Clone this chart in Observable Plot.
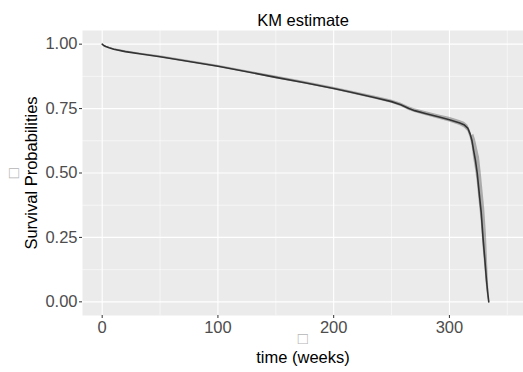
<!DOCTYPE html>
<html>
<head>
<meta charset="utf-8">
<script src="https://cdn.jsdelivr.net/npm/d3@7"></script>
<script src="https://cdn.jsdelivr.net/npm/@observablehq/plot@0.6"></script>
<style>
  html, body { margin: 0; padding: 0; background: #fff; }
  svg { display: block; }
</style>
</head>
<body>
<div id="chart"></div>
<script>
const title = "KM estimate";
const xLabel = "time (weeks)";
const yLabel = "Survival Probabilities";
const missingGlyph = "\u25A1";

const xTicks = [0, 100, 200, 300];
const xMinor = [50, 150, 250, 350];
const yTicks = [0, 0.25, 0.5, 0.75, 1];
const yMinor = [0.125, 0.375, 0.625, 0.875];

const times = [0, 1, 3, 6, 10, 20, 35, 50, 75, 100, 125, 150, 175, 200, 215, 235, 250, 258, 265, 270, 280, 292, 300, 309, 313, 316, 318, 319.5, 321, 322.5, 324, 326, 327.5, 329, 330.5, 332, 333, 334];
const surv = [1.000, 0.996, 0.991, 0.986, 0.980, 0.971, 0.961, 0.951, 0.933, 0.914, 0.893, 0.871, 0.850, 0.828, 0.813, 0.793, 0.777, 0.765, 0.750, 0.742, 0.730, 0.716, 0.707, 0.694, 0.686, 0.673, 0.650, 0.625, 0.585, 0.548, 0.500, 0.410, 0.345, 0.250, 0.170, 0.085, 0.040, 0.000];
const upper = [1.000, 0.997, 0.993, 0.988, 0.983, 0.974, 0.964, 0.955, 0.937, 0.918, 0.897, 0.876, 0.855, 0.833, 0.818, 0.799, 0.783, 0.772, 0.757, 0.749, 0.738, 0.724, 0.716, 0.704, 0.697, 0.685, 0.665, 0.645, 0.650, 0.630, 0.600, 0.560, 0.500, 0.430, 0.360, 0.260, 0.150, 0.050];
const lower = [1.000, 0.995, 0.989, 0.984, 0.977, 0.968, 0.958, 0.947, 0.929, 0.910, 0.889, 0.866, 0.845, 0.823, 0.808, 0.787, 0.771, 0.758, 0.743, 0.735, 0.722, 0.708, 0.698, 0.684, 0.675, 0.661, 0.636, 0.607, 0.555, 0.515, 0.465, 0.375, 0.310, 0.215, 0.140, 0.060, 0.020, 0.000];

const data = times.map((t, i) => ({t, s: surv[i], lo: lower[i], hi: upper[i]}));

const font = "Liberation Sans, Arial, Helvetica, sans-serif";
const tickColor = "#4D4D4D";

const chart = Plot.plot({
  width: 523,
  height: 372,
  marginTop: 30,
  marginLeft: 82,
  marginRight: 0,
  marginBottom: 57,
  style: {fontFamily: font, background: "#fff", overflow: "visible"},
  x: {domain: [-17, 364]},
  y: {domain: [-0.053, 1.053]},
  marks: [
    Plot.frame({fill: "#EBEBEB", stroke: null}),
    Plot.gridX(xMinor, {stroke: "#fff", strokeOpacity: 1, strokeWidth: 0.55}),
    Plot.gridY(yMinor, {stroke: "#fff", strokeOpacity: 1, strokeWidth: 0.55}),
    Plot.gridX(xTicks, {stroke: "#fff", strokeOpacity: 1, strokeWidth: 1.1}),
    Plot.gridY(yTicks, {stroke: "#fff", strokeOpacity: 1, strokeWidth: 1.1}),
    Plot.areaY(data, {x: "t", y1: "lo", y2: "hi", fill: "#333", fillOpacity: 0.35}),
    Plot.lineY(data, {x: "t", y: "s", stroke: "#333", strokeWidth: 1.6}),
    Plot.axisX({ticks: xTicks, tickSize: 3, tickPadding: 3, fontSize: 16.5, color: tickColor, label: null, stroke: "#333"}),
    Plot.axisY({ticks: yTicks, tickSize: 3, tickPadding: 2, fontSize: 16.5, color: tickColor, label: null, tickFormat: d => d.toFixed(2), stroke: "#333"}),
    Plot.text([title], {frameAnchor: "top", dy: -16, fontSize: 16.5, fill: "#000", text: d => d}),
    Plot.text([missingGlyph], {frameAnchor: "bottom", dy: 28, fontSize: 17, fill: "#B5B5B5", text: d => d}),
    Plot.text([xLabel], {frameAnchor: "bottom", dy: 47, fontSize: 16.5, fill: "#000", text: d => d}),
    Plot.text([missingGlyph], {frameAnchor: "left", dx: -69, rotate: -90, textAnchor: "middle", fontSize: 17, fill: "#B5B5B5", text: d => d}),
    Plot.text([yLabel], {frameAnchor: "left", dx: -51, rotate: -90, textAnchor: "middle", fontSize: 16.5, fill: "#000", text: d => d})
  ]
});
document.getElementById("chart").appendChild(chart);
</script>
</body>
</html>
